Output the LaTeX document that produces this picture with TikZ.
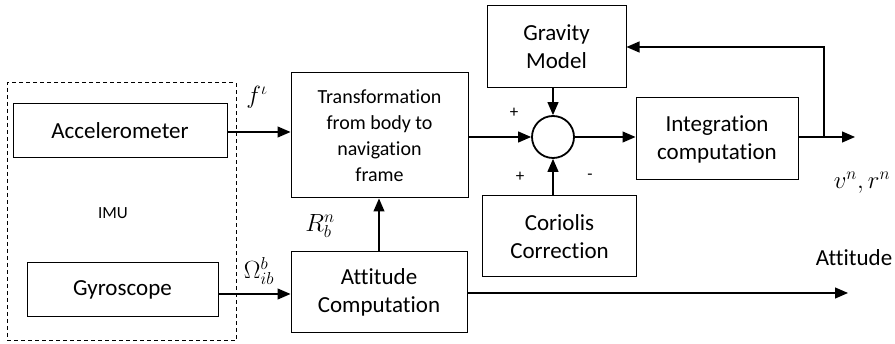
\documentclass[tikz,border=0pt]{standalone}
\usepackage{fontspec}
\setmainfont{Carlito}[Ligatures={NoCommon}]
\usetikzlibrary{arrows.meta}
\begin{document}
\begin{tikzpicture}[x=1pt,y=1pt,
  blk/.style={draw, line width=1pt, inner sep=0pt, align=center, font=\fontsize{23}{28}\selectfont},
  conn/.style={line width=1.2pt, -{Triangle[length=13pt,width=11pt]}},
  lbl/.style={font=\fontsize{23}{28}\selectfont, inner sep=0pt}]
\useasboundingbox (0,0) rectangle (895,-344);
\node[draw, dash pattern=on 4pt off 3pt, line width=1pt, minimum width=229pt, minimum height=258pt, inner sep=0pt] (imu) at (121.5,-212) {};
\node[blk, minimum width=214pt, minimum height=54pt] (acc) at (120,-131) {Accelerometer};
\node[blk, minimum width=191pt, minimum height=54pt] (gyro) at (122.5,-290) {Gyroscope};
\node[lbl, font=\fontsize{17}{20}\selectfont] (imul) at (113,-213) {IMU};
\node[blk, minimum width=177pt, minimum height=125pt, font=\fontsize{20}{26}\selectfont] (trans) at (379.5,-135.5) {Transformation\\from body to\\navigation\\frame};
\node[blk, minimum width=176pt, minimum height=81pt] (attc) at (379,-292.5) {Attitude\\Computation};
\node[blk, minimum width=139pt, minimum height=82pt] (grav) at (556.5,-47) {Gravity\\Model};
\node[blk, minimum width=154pt, minimum height=81pt] (cor) at (559.5,-236.5) {Coriolis\\Correction};
\node[blk, minimum width=162pt, minimum height=82pt] (integ) at (717,-139) {Integration\\computation};
\node[draw, circle, line width=1.8pt, minimum size=42pt, inner sep=0pt] (sum) at (553,-137) {};
\coordinate (out) at (855,-137);
\coordinate (fb) at (824,-137);
\coordinate (att) at (848,-293);
\draw[conn] (acc.east |- 0,-132) -- (trans.west |- 0,-132);
\draw[conn] (gyro.east |- 0,-294) -- (attc.west |- 0,-294);
\draw[conn] (attc.north) -- (attc.north |- trans.south);
\draw[conn] (trans.east |- sum) -- (sum.west);
\draw[conn] (sum |- grav.south) -- (sum.north);
\draw[conn] (sum |- cor.north) -- (sum.south);
\draw[conn] (sum.east) -- (integ.west |- sum);
\draw[conn] (integ.east |- sum) -- (out);
\draw[conn] (fb) |- (grav.east);
\draw[conn] (attc.east |- att) -- (att);
\node[lbl] (fl) at (257,-97) {$f^{\iota}$};
\node[lbl] (oml) at (259,-271) {$\Omega_{ib}^{b}$};
\node[lbl] (rl) at (320,-226) {$R_{b}^{n}$};
\node[lbl, font=\fontsize{17}{20}\selectfont] (p1) at (514,-113) {+};
\node[lbl, font=\fontsize{17}{20}\selectfont] (p2) at (520,-177) {+};
\node[lbl, font=\fontsize{17}{20}\selectfont] (m1) at (590,-177) {-};
\node[lbl] (vr) at (862,-183) {$v^{n}, r^{n}$};
\node[lbl] (attl) at (854,-258) {Attitude};
\end{tikzpicture}
\end{document}
